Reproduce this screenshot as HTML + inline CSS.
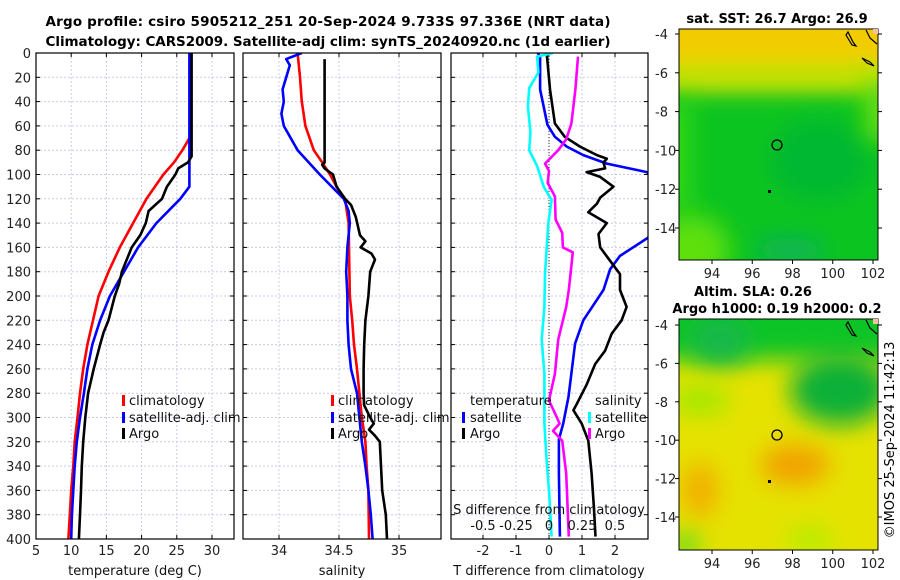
<!DOCTYPE html>
<html><head><meta charset="utf-8"><style>
body{margin:0;background:#fff}
svg{display:block;font-family:"DejaVu Sans","Liberation Sans",sans-serif}
</style></head><body>
<svg id="c" width="900" height="580" viewBox="0 0 900 580" xmlns="http://www.w3.org/2000/svg">
<defs>
<filter id="bl" filterUnits="userSpaceOnUse" x="600" y="0" width="300" height="580"><feGaussianBlur stdDeviation="12"/></filter>
<clipPath id="cm1"><rect x="679" y="29" width="199" height="231"/></clipPath>
<clipPath id="cm2"><rect x="679" y="319" width="199" height="231"/></clipPath>
<clipPath id="cp1"><rect x="36" y="53" width="198" height="486"/></clipPath>
<clipPath id="cp2"><rect x="243" y="53" width="198" height="486"/></clipPath>
<clipPath id="cp3"><rect x="451" y="53" width="197" height="486"/></clipPath>
</defs>
<text x="328" y="26" font-size="13.5" font-weight="bold" text-anchor="middle" textLength="565">Argo profile: csiro 5905212_251 20-Sep-2024 9.733S 97.336E (NRT data)</text>
<text x="328" y="46" font-size="13.5" font-weight="bold" text-anchor="middle" textLength="565">Climatology: CARS2009. Satellite-adj clim: synTS_20240920.nc (1d earlier)</text>

<!-- maps -->
<g>
<text x="777" y="23" font-size="13" font-weight="bold" text-anchor="middle">sat. SST: 26.7 Argo: 26.9</text>
<g clip-path="url(#cm1)">
<rect x="679" y="29" width="199" height="231" fill="#0cc420"/>
<rect x="640" y="0" width="280" height="80" fill="#f2cc00" filter="url(#bl)"/>
<rect x="640" y="65" width="280" height="25" fill="#cfe800" filter="url(#bl)"/>
<rect x="650" y="100" width="40" height="110" fill="#30d818" filter="url(#bl)"/>
<ellipse cx="690" cy="250" rx="40" ry="35" fill="#5ee010" filter="url(#bl)"/>
<ellipse cx="820" cy="160" rx="50" ry="40" fill="#02b830" filter="url(#bl)"/>
<ellipse cx="790" cy="250" rx="35" ry="12" fill="#10b060" filter="url(#bl)"/>
<rect x="866" y="80" width="30" height="60" fill="#70e010" filter="url(#bl)"/>
</g>
<rect x="679" y="29" width="199" height="231" fill="none" stroke="#000" stroke-width="1"/>
<circle cx="777" cy="145" r="5" fill="none" stroke="#000" stroke-width="1.3"/>
<rect x="768" y="190" width="3" height="3" fill="#000"/>
<path d="M848 32 l5 10 l3 4 l-4 -1 l-6 -10z M862 58 l8 4 l4 4 l-7 -3z M866 30 l4 8 l7 6" fill="none" stroke="#000" stroke-width="1.2"/>
<rect x="873" y="29" width="5" height="5" fill="#f5c0a0"/>
</g>
<g>
<text x="753" y="296" font-size="13" font-weight="bold" text-anchor="middle">Altim. SLA: 0.26</text>
<text x="777" y="313" font-size="13" font-weight="bold" text-anchor="middle">Argo h1000: 0.19 h2000: 0.2</text>
<g clip-path="url(#cm2)">
<rect x="679" y="319" width="199" height="231" fill="#e6e200"/>
<rect x="640" y="290" width="280" height="70" fill="#10c428" filter="url(#bl)"/>
<ellipse cx="840" cy="390" rx="50" ry="35" fill="#0ab038" filter="url(#bl)"/>
<ellipse cx="720" cy="340" rx="30" ry="25" fill="#18b848" filter="url(#bl)"/>
<ellipse cx="700" cy="400" rx="30" ry="15" fill="#a0e800" filter="url(#bl)"/>
<ellipse cx="795" cy="465" rx="35" ry="20" fill="#f2a000" filter="url(#bl)"/>
<ellipse cx="700" cy="490" rx="18" ry="28" fill="#f2ae00" filter="url(#bl)"/>
<ellipse cx="810" cy="540" rx="25" ry="15" fill="#b8ec00" filter="url(#bl)"/>
<ellipse cx="685" cy="545" rx="15" ry="12" fill="#50d820" filter="url(#bl)"/>
</g>
<rect x="679" y="319" width="199" height="231" fill="none" stroke="#000" stroke-width="1"/>
<circle cx="777" cy="435" r="5" fill="none" stroke="#000" stroke-width="1.3"/>
<rect x="768" y="480" width="3" height="3" fill="#000"/>
<path d="M848 322 l5 10 l3 4 l-4 -1 l-6 -10z M862 348 l8 4 l4 4 l-7 -3z M866 320 l4 8 l7 6" fill="none" stroke="#000" stroke-width="1.2"/>
<rect x="873" y="319" width="5" height="5" fill="#f5c0a0"/>
</g>
<text transform="translate(894,440) rotate(-90)" font-size="13" text-anchor="middle">©IMOS 25-Sep-2024 11:42:13</text>

<g id="g"></g>
</svg>
<script>
// depth axis
const depthTicks=[0,20,40,60,80,100,120,140,160,180,200,220,240,260,280,300,320,340,360,380,400];
// temperature panel
const tempTicks=[5,10,15,20,25,30];
const tClimDepth=[0,60,70,80,90,100,120,140,160,180,200,220,240,260,280,300,320,340,360,380,400];
const tClimVal=[27.0,27.0,26.8,25.8,24.6,23.1,20.7,18.8,16.9,15.3,13.9,13.1,12.3,11.7,11.25,10.9,10.5,10.3,10.0,9.8,9.6];
const tSatDepth=[0,110,120,140,160,180,200,220,240,260,280,300,320,340,360,380,400];
const tSatVal=[26.8,26.8,25.5,22.1,19.5,17.5,15.5,14.1,13.0,12.3,11.8,11.25,10.8,10.5,10.3,10.1,10.0];
const tArgoDepth=[0,85,90,95,100,110,120,130,140,150,160,170,180,190,200,220,230,240,260,280,300,320,340,360,380,400];
const tArgoVal=[27.1,27.1,26.6,25.2,24.8,23.6,22.9,21.0,20.6,19.8,18.6,17.9,17.2,16.8,16.2,15.3,14.6,14.1,13.2,12.4,12.0,11.7,11.5,11.4,11.25,11.1];
// salinity panel
const salTicks=[34,34.5,35];
const sClimDepth=[0,20,40,60,80,90,100,110,120,140,200,220,240,260,280,300,320,340,360,400];
const sClimVal=[34.155,34.175,34.19,34.22,34.29,34.36,34.425,34.48,34.55,34.58,34.59,34.61,34.625,34.65,34.67,34.69,34.72,34.73,34.745,34.75];
const sSatDepth=[0,5,10,30,40,50,60,80,100,120,130,140,160,180,200,220,240,260,280,300,320,340,360,380,400];
const sSatVal=[34.19,34.06,34.09,34.03,34.04,34.02,34.04,34.155,34.34,34.54,34.58,34.59,34.57,34.56,34.57,34.57,34.58,34.6,34.65,34.67,34.69,34.72,34.745,34.765,34.78];
const sArgoDepth=[5,90,92,95,100,110,120,125,135,150,155,160,165,170,180,200,220,240,260,280,290,300,305,310,315,320,340,360,380,400];
const sArgoVal=[34.38,34.38,34.36,34.38,34.45,34.48,34.55,34.6,34.64,34.675,34.72,34.68,34.77,34.8,34.76,34.745,34.72,34.71,34.705,34.705,34.71,34.76,34.79,34.75,34.8,34.84,34.85,34.86,34.89,34.9];
// difference panel
const dTTicks=[-2,-1,0,1,2];
const dSTicks=[-0.5,-0.25,0,0.25,0.5];
const dSTickLabels=["-0.5","-0.25","0","0.25","0.5"];
const dtSatDepth=[0,3,30,59,69,77,84,91,98,110,130,140,152,167,178,195,220,239,261,283,305,318,346,398];
const dtSatVal=[-0.34,-0.27,-0.27,-0.05,0.18,0.54,1.04,1.75,2.96,3.6,3.6,3.3,3.0,2.15,1.85,1.65,1.04,0.79,0.69,0.59,0.43,0.30,0.30,0.33];
const dtArgoDepth=[0,30,58,69,77,84,87,90,95,98,102,110,119,124,131,140,149,160,171,182,195,209,220,231,245,256,273,289,294,305,319,346,374,398];
const dtArgoVal=[-0.07,0.03,0.18,0.48,0.94,1.45,1.75,1.65,1.7,1.14,1.55,1.95,1.55,1.45,1.19,1.75,1.5,1.55,1.85,2.15,2.15,2.35,2.2,1.9,1.7,1.4,1.14,0.84,0.74,0.99,1.19,1.29,1.36,1.41];
const dsSatDepth=[0,3,16,29,44,66,80,93,110,121,140,182,209,236,264,305,333,360,398];
const dsSatVal=[0.03,-0.09,-0.08,-0.15,-0.16,-0.14,-0.15,-0.09,-0.04,0.02,-0.005,-0.03,-0.035,-0.055,-0.035,-0.035,-0.02,0.0,0.02];
const dsArgoDepth=[3,30,58,71,80,91,97,107,118,137,148,160,164,175,195,209,236,264,286,300,305,311,319,346,398];
const dsArgoVal=[0.22,0.2,0.17,0.13,0.07,-0.03,0.0,-0.01,0.045,0.05,0.1,0.105,0.18,0.17,0.15,0.13,0.07,0.045,0.0,0.06,0.08,0.03,0.1,0.13,0.15];

const NS='http://www.w3.org/2000/svg';
const G=document.getElementById('g');
function mk(tag,at,parent){const e=document.createElementNS(NS,tag);for(const k in at)e.setAttribute(k,at[k]);(parent||G).appendChild(e);return e;}
const Y0=53,Y1=539;
function yD(d){return Y0+(d/400)*(Y1-Y0);}
function lin(a,b,x0,x1){return v=>x0+(v-a)/(b-a)*(x1-x0);}
const xT=lin(5,33.13,36,234);
const xS=lin(33.7,35.35,243,441);
const xDT=lin(-2.97,3,451,648);
const xDS=v=>xDT(v*4);

function panel(name,x0,x1,xf,ticks,labels,showDepthLabels){
  const p=mk('g',{});
  
  
  depthTicks.forEach(d=>{
    const gl=mk('line',{x1:x0,x2:x1,y1:yD(d),y2:yD(d),stroke:'#c8cce8','stroke-width':1,'stroke-dasharray':'2,2'},p);
    
    
    mk('line',{x1:x0,x2:x0+4,y1:yD(d),y2:yD(d),stroke:'#000'},p);
    mk('line',{x1:x1-4,x2:x1,y1:yD(d),y2:yD(d),stroke:'#000'},p);
    if(showDepthLabels){const t=mk('text',{x:x0-5,y:yD(d)+5,'font-size':13,'text-anchor':'end',fill:'#222'},p);t.textContent=d;
      
      }
  });
  ticks.forEach((v,i)=>{
    const x=xf(v);
    const gl=mk('line',{x1:x,x2:x,y1:Y0,y2:Y1,stroke:'#c8cce8','stroke-width':1,'stroke-dasharray':'2,2'},p);
    
    
    mk('line',{x1:x,x2:x,y1:Y1,y2:Y1-4,stroke:'#000'},p);
    mk('line',{x1:x,x2:x,y1:Y0,y2:Y0+4,stroke:'#000'},p);
    if(labels){const t=mk('text',{x:x,y:555,'font-size':13,'text-anchor':'middle',fill:'#222'},p);t.textContent=labels[i];
      
      }
  });
  return p;
}
function series(name,depths,vals,xf,color,clip){
  let d='';depths.forEach((z,i)=>{d+=(i?'L':'M')+xf(vals[i]).toFixed(1)+' '+yD(z).toFixed(1);});
  const e=mk('path',{d:d,fill:'none',stroke:color,'stroke-width':2.6,'stroke-linejoin':'round','clip-path':'url(#'+clip+')'});
  
  
}
function frame(x0,x1){mk('rect',{x:x0,y:Y0,width:x1-x0,height:Y1-Y0,fill:'none',stroke:'#000','stroke-width':1.2});}
function txt(x,y,s,name,anchor,size){const t=mk('text',{x:x,y:y,'font-size':size||13,'text-anchor':anchor||'start',fill:'#111'});t.textContent=s;
  
  return t;}
function legBar(x,y,color,name){const r=mk('rect',{x:x,y:y-10,width:3,height:11,fill:color});
  
  }

// Panel 1
panel('temperature-panel',36,234,xT,tempTicks,tempTicks,true);
series('temp-climatology-line',tClimDepth,tClimVal,xT,'#ff0000','cp1');
series('temp-satellite-line',tSatDepth,tSatVal,xT,'#0000ff','cp1');
series('temp-argo-line',tArgoDepth,tArgoVal,xT,'#000000','cp1');
frame(36,234);
txt(135,575,'temperature (deg C)','temperature-axis-title','middle');
legBar(122,405,'#ff0000','legend-climatology-swatch');txt(129,405,'climatology','legend-climatology');
legBar(122,422,'#0000ff','legend-satellite-swatch');txt(129,422,'satellite-adj. clim','legend-satellite');
legBar(122,438,'#000','legend-argo-swatch');txt(129,438,'Argo','legend-argo');

// Panel 2
panel('salinity-panel',243,441,xS,salTicks,salTicks,false);
series('sal-climatology-line',sClimDepth,sClimVal,xS,'#ff0000','cp2');
series('sal-satellite-line',sSatDepth,sSatVal,xS,'#0000ff','cp2');
series('sal-argo-line',sArgoDepth,sArgoVal,xS,'#000000','cp2');
frame(243,441);
txt(342,575,'salinity','salinity-axis-title','middle');
legBar(331,405,'#ff0000','legend2-climatology-swatch');txt(338,405,'climatology','legend2-climatology');
legBar(331,422,'#0000ff','legend2-satellite-swatch');txt(338,422,'satellite-adj. clim','legend2-satellite');
legBar(331,438,'#000','legend2-argo-swatch');txt(338,438,'Argo','legend2-argo');

// Panel 3
panel('difference-panel',451,648,xDT,dTTicks,dTTicks,false);
const zl=mk('line',{x1:xDT(0),x2:xDT(0),y1:Y0,y2:Y1,stroke:'#333','stroke-width':1,'stroke-dasharray':'1,2'});


series('dt-satellite-line',dtSatDepth,dtSatVal,xDT,'#0000ff','cp3');
series('dt-argo-line',dtArgoDepth,dtArgoVal,xDT,'#000000','cp3');
series('ds-satellite-line',dsSatDepth,dsSatVal,xDS,'#00ffff','cp3');
series('ds-argo-line',dsArgoDepth,dsArgoVal,xDS,'#ff00ff','cp3');
frame(451,648);
dSTicks.forEach((v,i)=>{txt(xDS(v),530,dSTickLabels[i],'s-diff-tick-label','middle');});
txt(549,514,'S difference from climatology','s-diff-axis-title','middle');
txt(549,575,'T difference from climatology','t-diff-axis-title','middle');
txt(470,405,'temperature','legend3-temperature-header');
legBar(462,422,'#0000ff','legend3-t-satellite-swatch');txt(470,422,'satellite','legend3-t-satellite');
legBar(462,438,'#000','legend3-t-argo-swatch');txt(470,438,'Argo','legend3-t-argo');
txt(595,405,'salinity','legend3-salinity-header');
legBar(588,422,'#00ffff','legend3-s-satellite-swatch');txt(595,422,'satellite','legend3-s-satellite');
legBar(588,438,'#ff00ff','legend3-s-argo-swatch');txt(595,438,'Argo','legend3-s-argo');

// map ticks
const lonTicks=[94,96,98,100,102];
const latTicks=[-4,-6,-8,-10,-12,-14];
const xLon=lin(94,102,712,873);
function mapAxes(top,latY0,latY1,bottom,name){
  const yL=lin(-4,-14,latY0,latY1);
  lonTicks.forEach(v=>{mk('line',{x1:xLon(v),x2:xLon(v),y1:bottom,y2:bottom+4,stroke:'#000'});
    const t=mk('text',{x:xLon(v),y:bottom+18,'font-size':13,'text-anchor':'middle',fill:'#222'});t.textContent=v;
    
    });
  latTicks.forEach(v=>{mk('line',{x1:878,x2:882,y1:yL(v),y2:yL(v),stroke:'#000'});mk('line',{x1:675,x2:679,y1:yL(v),y2:yL(v),stroke:'#000'});
    const t=mk('text',{x:655,y:yL(v)+5,'font-size':13,'text-anchor':'start',fill:'#222'});t.textContent=v;
    
    });
}
mapAxes(29,34,228,260,'sst-map');
mapAxes(319,325,517,550,'sla-map');
</script>
</body></html>
